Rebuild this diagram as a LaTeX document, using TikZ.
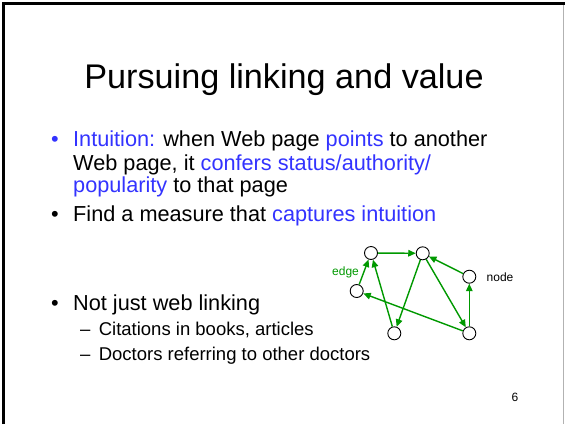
\documentclass[tikz,border=0pt]{standalone}
\usepackage{fontspec}
\setmainfont{Liberation Sans}
\usepackage{xcolor}
\usetikzlibrary{positioning,arrows.meta}

\definecolor{linkblue}{RGB}{51,51,255}
\definecolor{edgegreen}{RGB}{0,153,0}

\tikzset{
  page/.style={circle, draw, line width=0.9pt, minimum size=13pt, inner sep=0pt},
  link/.style={edgegreen, line width=1.4pt, -{Triangle[length=7.5pt,width=6.5pt]}},
  bodyline/.style={anchor=base west, inner sep=0pt, font=\fontsize{21.7}{24}\selectfont},
  subline/.style={anchor=base west, inner sep=0pt, font=\fontsize{18.5}{22}\selectfont}
}

\begin{document}
\begin{tikzpicture}[x=1pt, y=-1pt]
\useasboundingbox (0,0) rectangle (565,424);
\fill[white] (0,0) rectangle (565,424);

% slide frame
\draw[line width=3.3pt] (3.3,424) -- (3.3,3.3) -- (565,3.3);
\draw[gray!60, line width=1pt] (563.5,5) -- (563.5,424);

\node[anchor=base, inner sep=0pt, font=\fontsize{34.2}{40}\selectfont] (title) at (284,88) {Pursuing linking and value};

% bullets
\node[bodyline, text=linkblue] (b1) at (51,146.7) {\textbullet};
\node[bodyline] (l1) at (73,146.7) {\textcolor{linkblue}{Intuition:} when Web page \textcolor{linkblue}{points} to another};
\node[bodyline] (l2) at (73,170) {Web page, it \textcolor{linkblue}{confers status/authority/}};
\node[bodyline] (l3) at (73,192) {\textcolor{linkblue}{popularity} to that page};

\node[bodyline] (b2) at (51,221) {\textbullet};
\node[bodyline] (l4) at (73,221) {Find a measure that \textcolor{linkblue}{captures intuition}};

\node[bodyline] (b3) at (51,310) {\textbullet};
\node[bodyline] (l5) at (73,310) {Not just web linking};
\node[subline] (s1) at (80,335) {--\hspace{0.45em}Citations in books, articles};
\node[subline] (s2) at (80,360) {--\hspace{0.45em}Doctors referring to other doctors};

% little web graph
\node[page] (pa) at (371,253) {};
\node[page] (pb) at (422.7,253.3) {};
\node[page] (pc) at (469.3,276.7) {};
\node[page] (pd) at (356.7,291) {};
\node[page] (pe) at (394.3,333.3) {};
\node[page] (pf) at (469.3,333.3) {};

\draw[link] (pa) -- (pb);
\draw[link] (pd) -- (pa);
\draw[link] (pe) -- (pa);
\draw[link] (pb) -- (pe);
\draw[link] (pb) -- (pf);
\draw[link] (pc) -- (pb);
\draw[link] (pf) -- (pc);
\draw[link] (pf) -- (pd);

\node[text=edgegreen, font=\fontsize{12}{14}\selectfont] (edgelbl) at (345.5,272) {edge};
\node[font=\fontsize{12}{14}\selectfont] (nodelbl) at (500,277) {node};

\node[anchor=base, inner sep=0pt, font=\fontsize{12}{14}\selectfont] (pageno) at (515,401) {6};
\end{tikzpicture}
\end{document}
